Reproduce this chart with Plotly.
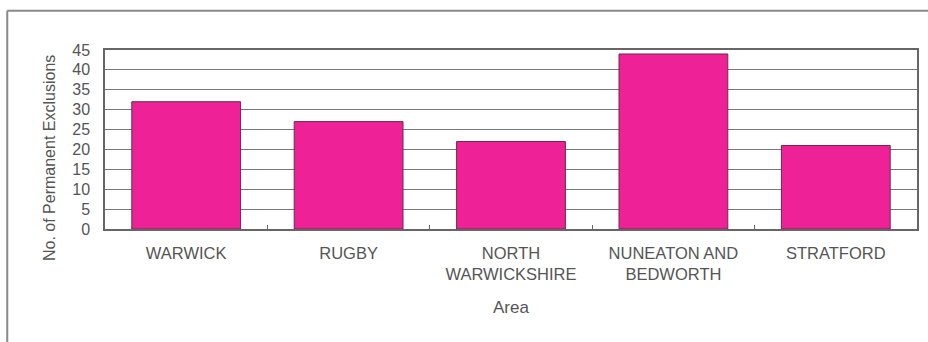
import plotly.graph_objects as go

# Permanent exclusions by area
areas = ["WARWICK", "RUGBY", "NORTH<br>WARWICKSHIRE", "NUNEATON AND<br>BEDWORTH", "STRATFORD"]
exclusions = [32, 27, 22, 44, 21]
y_ticks = [0, 5, 10, 15, 20, 25, 30, 35, 40, 45]

TEXT = "#555555"
FONT = "Liberation Sans, Arial, sans-serif"

fig = go.Figure(
    go.Bar(
        x=areas,
        y=exclusions,
        marker=dict(color="#EF2196", line=dict(color="#6a2a4a", width=1)),
        width=0.67,
    )
)

fig.update_layout(
    width=928,
    height=342,
    margin=dict(l=105, r=9, t=50, b=113),
    paper_bgcolor="white",
    plot_bgcolor="white",
    font=dict(family=FONT, color=TEXT),
    showlegend=False,
    shapes=[
        # outer chart frame (top and left edges)
        dict(type="line", xref="paper", yref="paper", x0=-0.1204, x1=1.02, y0=1.219, y1=1.219,
             line=dict(color="#8a8a8a", width=2)),
        dict(type="line", xref="paper", yref="paper", x0=-0.1204, x1=-0.1204, y0=1.219, y1=-0.65,
             line=dict(color="#8a8a8a", width=2)),
    ],
    annotations=[
        dict(text="No. of Permanent Exclusions", textangle=-90, showarrow=False,
             xref="paper", yref="paper", x=-0.0676, y=0.397, xanchor="center", yanchor="middle",
             font=dict(size=16, color=TEXT, family=FONT)),
        dict(text="Area", showarrow=False,
             xref="paper", yref="paper", x=0.5, y=-0.436, xanchor="center", yanchor="middle",
             font=dict(size=17, color=TEXT, family=FONT)),
    ],
)

fig.update_xaxes(
    tickfont=dict(size=16.5, color=TEXT),
    showline=True, linecolor="#666666", linewidth=1.5, mirror=True,
    ticks="inside", ticklen=4, tickcolor="#666666", tickson="boundaries",
    ticklabelstandoff=8,
    showgrid=False,
)

fig.update_yaxes(
    tickfont=dict(size=16, color=TEXT),
    range=[0, 45], tickvals=y_ticks,
    showline=True, linecolor="#666666", linewidth=1.5, mirror=True,
    showgrid=True, gridcolor="#777777", gridwidth=1.2,
    ticks="", ticklabelstandoff=10,
    zeroline=False,
)

fig.write_html("out.html")
